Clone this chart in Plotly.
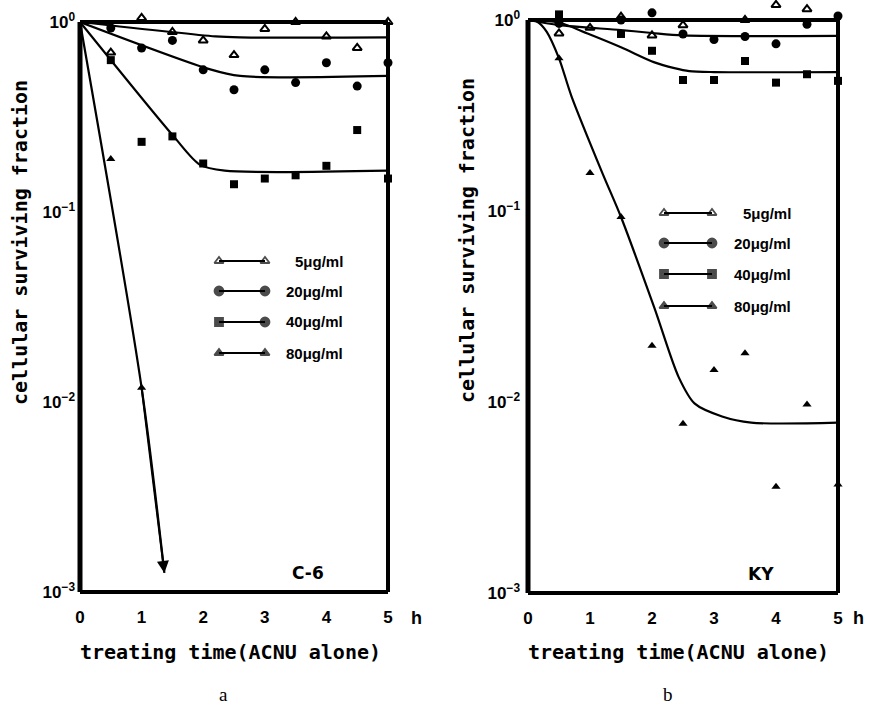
import math
import plotly.graph_objects as go

# ---------------- data ----------------
times = [0.5, 1.0, 1.5, 2.0, 2.5, 3.0, 3.5, 4.0, 4.5, 5.0]
labels = ["5μg/ml", "20μg/ml", "40μg/ml", "80μg/ml"]
x_ticks = [0, 1, 2, 3, 4, 5]
y_ticks = [1, 0.1, 0.01, 0.001]
y_ticktext = ["10<sup>0</sup>", "10<sup>−1</sup>", "10<sup>−2</sup>", "10<sup>−3</sup>"]

# Panel a : C-6 (measured points)
c6_t5 = [0.5, 1.0, 1.5, 2.0, 2.5, 3.0, 3.5, 4.0, 4.5, 5.0]
c6_v5 = [0.69, 1.05, 0.886, 0.80, 0.67, 0.92, 1.0, 0.84, 0.73, 1.0]
c6_t20 = [0.5, 1.0, 1.5, 2.0, 2.5, 3.0, 3.5, 4.0, 4.5, 5.0]
c6_v20 = [0.93, 0.73, 0.80, 0.56, 0.44, 0.56, 0.48, 0.61, 0.46, 0.61]
c6_t40 = [0.5, 1.0, 1.5, 2.0, 2.5, 3.0, 3.5, 4.0, 4.5, 5.0]
c6_v40 = [0.63, 0.234, 0.25, 0.18, 0.14, 0.15, 0.156, 0.175, 0.27, 0.15]
c6_t80 = [0.5, 1.0]
c6_v80 = [0.19, 0.0119]

# Panel a : fitted curves (knots)
c6_fit5_t = [0, 2.2, 2.6, 5]
c6_fit5_v = [1, 0.84, 0.83, 0.83]
c6_fit20_t = [0, 2.1, 2.6, 5]
c6_fit20_v = [1, 0.565, 0.52, 0.52]
c6_fit40_t = [0, 1.52, 1.95, 2.35, 5]
c6_fit40_v = [1, 0.25, 0.177, 0.165, 0.165]
c6_fit80_t = [0, 1.0, 1.37]
c6_fit80_v = [1, 0.0119, 0.00126]

# Panel b : KY (measured points)
ky_t5 = [0.5, 1.0, 1.5, 2.0, 2.5, 3.5, 4.0, 4.5]
ky_v5 = [0.85, 0.91, 1.04, 0.83, 0.94, 1.0, 1.2, 1.14]
ky_t20 = [0.5, 1.5, 2.0, 2.5, 3.0, 3.5, 4.0, 4.5, 5.0]
ky_v20 = [0.96, 1.0, 1.09, 0.845, 0.79, 0.82, 0.75, 0.95, 1.05]
ky_t40 = [0.5, 1.5, 2.0, 2.5, 3.0, 3.5, 4.0, 4.5, 5.0]
ky_v40 = [1.07, 0.845, 0.69, 0.485, 0.485, 0.61, 0.47, 0.52, 0.48]
ky_t80 = [0.5, 1.0, 1.5, 2.0, 2.5, 3.0, 3.5, 4.0, 4.5, 5.0]
ky_v80 = [0.63, 0.158, 0.093, 0.0197, 0.0077, 0.0147, 0.018, 0.0036, 0.0097, 0.0037]

# Panel b : fitted curves (knots)
ky_fit5_t = [0, 5]
ky_fit5_v = [1, 1]
ky_fit20_t = [0, 0.5, 1.5, 2.0, 2.5, 5]
ky_fit20_v = [1, 0.94, 0.886, 0.855, 0.83, 0.825]
ky_fit40_t = [0, 0.5, 0.96, 1.5, 2.04, 2.36, 2.6, 3.0, 5]
ky_fit40_v = [1, 0.97, 0.85, 0.72, 0.60, 0.56, 0.54, 0.534, 0.534]
ky_fit80_t = [0, 0.15, 0.3, 0.5, 0.7, 1.2, 1.5, 2.04, 2.43, 2.69, 3.13, 3.6, 5.0]
ky_fit80_v = [1, 0.98, 0.87, 0.63, 0.40, 0.158, 0.093, 0.031, 0.0135, 0.0098, 0.0084, 0.0078, 0.0078]

# ---------------- style ----------------
W, H = 879, 714
FONT = "Liberation Sans Narrow, Liberation Sans, Arial, sans-serif"
TITLE_FONT = "DejaVu Sans Mono, Liberation Mono, monospace"
BLACK = "black"
CLEAR = "rgba(0,0,0,0)"
Y_TOP = 0.1  # headroom above 10^0 (log units) so points above 1 stay visible

def fx(px):
    return px / W

def fy(py):
    return 1 - py / H

# panel frames in pixels: left, right, top(10^0), bottom(10^-3)
PANELS = [dict(l=80, r=388, t=22, b=592), dict(l=528, r=838, t=20, b=593)]

fig = go.Figure()

SYM = {
    "5": dict(symbol="triangle-up-open", size=8, line=dict(width=2, color=BLACK), color=BLACK),
    "20": dict(symbol="circle", size=9, color=BLACK),
    "40": dict(symbol="square", size=8, color=BLACK),
    "80": dict(symbol="triangle-up", size=8, color=BLACK),
}

def add_panel(xa, ya, pts, fits):
    for t, v in fits:
        fig.add_trace(go.Scatter(x=t, y=v, mode="lines",
                                 line=dict(color=BLACK, width=2.2, shape="spline", smoothing=0.8),
                                 xaxis=xa, yaxis=ya, cliponaxis=False,
                                 showlegend=False, hoverinfo="skip"))
    for key, (t, v) in pts.items():
        fig.add_trace(go.Scatter(x=t, y=v, mode="markers", marker=SYM[key],
                                 xaxis=xa, yaxis=ya, cliponaxis=False,
                                 showlegend=False, hoverinfo="skip"))

add_panel("x", "y",
          {"5": (c6_t5, c6_v5), "20": (c6_t20, c6_v20), "40": (c6_t40, c6_v40), "80": (c6_t80, c6_v80)},
          [(c6_fit5_t, c6_fit5_v), (c6_fit20_t, c6_fit20_v), (c6_fit40_t, c6_fit40_v), (c6_fit80_t, c6_fit80_v)])
add_panel("x2", "y2",
          {"5": (ky_t5, ky_v5), "20": (ky_t20, ky_v20), "40": (ky_t40, ky_v40), "80": (ky_t80, ky_v80)},
          [(ky_fit5_t, ky_fit5_v), (ky_fit20_t, ky_fit20_v), (ky_fit40_t, ky_fit40_v), (ky_fit80_t, ky_fit80_v)])

# arrow head at the end of the 80 µg/ml C-6 curve
fig.add_annotation(x=c6_fit80_t[-1], y=math.log10(c6_fit80_v[-1]),
                   ax=c6_fit80_t[-2], ay=math.log10(c6_fit80_v[-2]),
                   xref="x", yref="y", axref="x", ayref="y", text="",
                   showarrow=True, arrowhead=2, arrowsize=1.2, arrowwidth=2, arrowcolor=BLACK)

# frames (below the data so markers sitting on the frame stay visible)
for P in PANELS:
    for (x0, y0, x1, y1, w) in [(P["l"], P["t"], P["l"], P["b"], 5),
                                (P["l"], P["b"], P["r"], P["b"], 4),
                                (P["l"], P["t"], P["r"], P["t"], 4),
                                (P["r"], P["t"], P["r"], P["b"], 4)]:
        fig.add_shape(type="line", xref="paper", yref="paper",
                      x0=fx(x0), y0=fy(y0), x1=fx(x1), y1=fy(y1),
                      line=dict(color=BLACK, width=w), layer="below")

# ---------------- legends (drawn on a pixel overlay axis) ----------------
LEG = [
    dict(rows=[261, 291, 322, 353], x0=219, x1=265, xtext=345),
    dict(rows=[213, 243, 274, 306], x0=664, x1=712, xtext=793),
]
leg_syms = [("5", "5"), ("20", "20"), ("40", "20"), ("80", "80")]
leg_syms_b = [("5", "5"), ("20", "20"), ("40", "40"), ("80", "80")]
for li, L in enumerate(LEG):
    syms = leg_syms if li == 0 else leg_syms_b
    for ri, (ry, lab) in enumerate(zip(L["rows"], labels)):
        a, b = syms[ri]
        ma, mb = SYM[a], SYM[b]
        fig.add_trace(go.Scatter(
            x=[L["x0"], L["x1"]], y=[ry, ry], mode="lines+markers",
            line=dict(color=BLACK, width=2),
            marker=dict(symbol=[ma["symbol"], mb["symbol"]], size=[ma["size"], mb["size"]],
                        color=BLACK, line=dict(width=1.8, color=BLACK)),
            xaxis="x3", yaxis="y3", showlegend=False, hoverinfo="skip", cliponaxis=False))
        fig.add_annotation(x=fx(L["xtext"]), y=fy(ry), xref="paper", yref="paper",
                           text=lab, showarrow=False, xanchor="right", yanchor="middle",
                           font=dict(family=FONT, size=15, color=BLACK, weight=700))

# ---------------- axes ----------------
ax_common = dict(showline=False, showgrid=False, zeroline=False, ticks="", automargin=False)
xcommon = dict(ax_common, range=[0, 5], tickvals=x_ticks, ticktext=[str(v) for v in x_ticks],
               tickfont=dict(family=FONT, size=17, color=BLACK, weight=700), ticklabelstandoff=13)
ycommon = dict(ax_common, type="log", range=[-3, Y_TOP], tickvals=y_ticks, ticktext=y_ticktext,
               tickfont=dict(family=FONT, size=17, color=BLACK, weight=700))

def ydomain(P):
    per_dec = (P["b"] - P["t"]) / 3.0
    return [fy(P["b"]), fy(P["t"] - Y_TOP * per_dec)]

fig.update_layout(
    width=W, height=H, margin=dict(l=0, r=0, t=0, b=0),
    paper_bgcolor="white", plot_bgcolor=CLEAR, showlegend=False,
    xaxis=dict(xcommon, domain=[fx(PANELS[0]["l"]), fx(PANELS[0]["r"])], anchor="y"),
    yaxis=dict(ycommon, domain=ydomain(PANELS[0]), anchor="x", ticklabelstandoff=4),
    xaxis2=dict(xcommon, domain=[fx(PANELS[1]["l"]), fx(PANELS[1]["r"])], anchor="y2"),
    yaxis2=dict(ycommon, domain=ydomain(PANELS[1]), anchor="x2", ticklabelstandoff=7),
    xaxis3=dict(domain=[0, 1], range=[0, W], visible=False, anchor="y3", fixedrange=True, automargin=False),
    yaxis3=dict(domain=[0, 1], range=[H, 0], visible=False, anchor="x3", fixedrange=True, automargin=False),
)

# ---------------- texts ----------------
def txt(x, y, s, size, angle=0, family=TITLE_FONT, weight=700):
    fig.add_annotation(x=fx(x), y=fy(y), xref="paper", yref="paper", text=s, showarrow=False,
                       textangle=angle, xanchor="center", yanchor="middle",
                       font=dict(family=family, size=size, color=BLACK, weight=weight))

txt(20, 243, "cellular surviving fraction", 20, angle=-90)
txt(467, 241, "cellular surviving fraction", 20, angle=-90)
txt(230, 652, "treating time(ACNU alone)", 20)
txt(678, 652, "treating time(ACNU alone)", 20)
txt(416, 618, "h", 18, family=FONT)
txt(858, 618, "h", 18, family=FONT)
txt(224, 694, "a", 19, family="Liberation Serif, serif", weight=400)
txt(668, 694, "b", 19, family="Liberation Serif, serif", weight=400)

fig.add_annotation(x=3.7, y=-2.9, xref="x", yref="y", text="C-6", showarrow=False,
                   font=dict(family="DejaVu Sans, sans-serif", size=17, color=BLACK, weight=700))
fig.add_annotation(x=3.75, y=-2.9, xref="x2", yref="y2", text="KY", showarrow=False,
                   font=dict(family="DejaVu Sans, sans-serif", size=17, color=BLACK, weight=700))

fig.write_html("out.html", config={"displayModeBar": False},
               post_script="document.body.style.margin='0';document.body.style.overflow='hidden';")
